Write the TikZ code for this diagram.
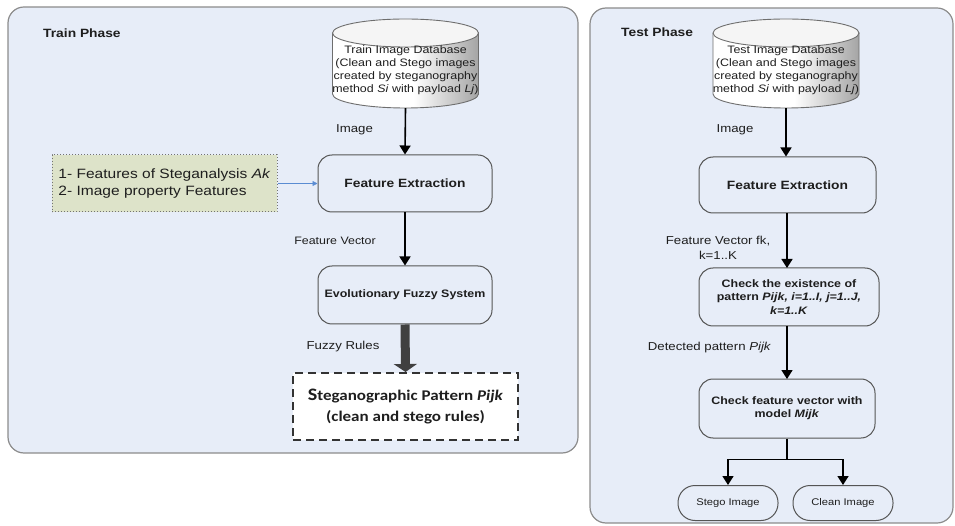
\documentclass[tikz,border=0pt]{standalone}
\usepackage{fontspec}
\setmainfont{Liberation Sans}[FakeStretch=1.15]
\newfontfamily\patfont{Carlito}[FakeStretch=1.15]
\usetikzlibrary{arrows.meta}

\definecolor{panelfill}{RGB}{231,237,248}
\definecolor{panelline}{RGB}{140,140,140}
\definecolor{boxline}{RGB}{85,85,85}
\definecolor{drumline}{RGB}{110,110,110}
\definecolor{notefill}{RGB}{221,227,201}
\definecolor{linkblue}{RGB}{90,140,210}
\definecolor{ink}{RGB}{30,30,30}
\definecolor{heavy}{RGB}{64,64,64}

\newcommand\fsz[2]{\fontsize{#1}{#2}\selectfont}

\tikzset{
  % database cylinder, origin at the top centre of the drum
  dbcyl/.pic={
    \begin{scope}
      \clip (-73,14) -- (-73,75)
        arc[start angle=180, end angle=0, x radius=73, y radius=14]
        -- (73,14)
        arc[start angle=360, end angle=180, x radius=73, y radius=14] -- cycle;
      \fill[white] (-74,0) rectangle (74,90);
      \shade[left color=white, right color=black!36] (8,0) rectangle (74,90);
    \end{scope}
    \draw[drumline, line width=0.9pt]
      (-73,14) -- (-73,75)
      arc[start angle=180, end angle=0, x radius=73, y radius=14]
      -- (73,14);
    \draw[drumline, line width=0.9pt, fill=white!96!black]
      (0,14) ellipse [x radius=73, y radius=14];
  }
}

\begin{document}
\begin{tikzpicture}[x=1pt, y=-1pt,
  panel/.style={draw=panelline, line width=1.2pt, fill=panelfill, rounded corners=16pt},
  title/.style={text=ink, font=\bfseries\fsz{12}{14}, inner sep=0pt, anchor=west},
  proc/.style={draw=boxline, line width=1pt, fill=panelfill, rounded corners=14pt,
    align=center, text=ink, font=\bfseries\fsz{10.8}{13.3}, inner sep=2pt},
  lbl/.style={text=ink, font=\fsz{11.5}{15}, inner sep=0pt, align=center},
  flow/.style={draw=black, line width=1.6pt, -{Triangle[width=11pt,length=9pt]}},
  link/.style={draw=linkblue, line width=0.8pt, -{Triangle[width=5pt,length=5pt]}},
  dbtext/.style={text=ink, font=\fsz{10.8}{13}, align=center, minimum width=146pt,
    minimum height=75pt, inner sep=0pt},
  note/.style={draw=black!55, dotted, line width=1pt, fill=notefill, text=ink,
    align=left, font=\fsz{13.5}{17}, minimum width=225pt, minimum height=57pt},
  pattern box/.style={draw=black!80, dashed, dash pattern=on 8pt off 5pt, line width=2pt,
    fill=white, align=center, text=ink, font=\patfont\bfseries\fsz{14.8}{21},
    minimum width=225pt, minimum height=67pt},
  terminal/.style={draw=boxline, line width=1pt, fill=panelfill, rounded corners=17pt,
    minimum width=100pt, minimum height=35pt, font=\fsz{9.7}{12}, text=ink},
]
\useasboundingbox (0,0) rectangle (955,526);

% ---------------- panels ----------------
\draw[panel] (8,7) rectangle (578,453);
\draw[panel] (590,8) rectangle (953,523);
\node[title] (trainttl) at (43,33) {Train Phase};
\node[title] (testttl) at (621,32) {Test Phase};

% ---------------- train phase ----------------
\pic at (405.5,19) {dbcyl};
\node[dbtext] (traindb) at (405.5,70.5)
  {Train Image Database\\(Clean and Stego images\\created by steganography\\method \textit{Si} with payload \textit{Lj})};

\node[proc, font=\bfseries\fsz{12}{14}, minimum width=174pt, minimum height=57pt]
  (trainfe) at (405,183.5) {Feature Extraction};
\node[proc, minimum width=174pt, minimum height=58pt] (efs) at (405,295) {Evolutionary Fuzzy System};
\node[pattern box] (pat) at (405.5,406.5)
  {{\fsz{17.5}{21}S}teganographic Pattern \textit{Pijk}\\(clean and stego rules)};
\node[note] (feat) at (164.5,183.5)
  {1- Features of Steganalysis \textit{Ak}\\2- Image property Features};

\draw[flow] (traindb.south) -- (trainfe.north);
\draw[flow] (trainfe.south) -- (efs.north);
\draw[heavy, line width=9pt, -{Triangle[width=23pt,length=8pt]}] (efs.south) -- (pat.north);
\draw[link] (feat.east) -- (trainfe.west);

\node[lbl] (lblimg1) at (354.5,130) {Image};
\node[lbl, font=\fsz{10.8}{14}] (lblfv) at (335,241) {Feature Vector};
\node[lbl] (lblfr) at (343,347) {Fuzzy Rules};

% ---------------- test phase ----------------
\pic at (786,19) {dbcyl};
\node[dbtext] (testdb) at (786,70.5)
  {Test Image Database\\(Clean and Stego images\\created by steganography\\method \textit{Si} with payload \textit{Lj})};

\node[proc, font=\bfseries\fsz{12}{14}, minimum width=177pt, minimum height=56pt]
  (testfe) at (787.5,185) {Feature Extraction};
\node[proc, minimum width=180pt, minimum height=58pt] (check) at (789,297)
  {Check the existence of\\pattern \textit{Pijk, i=1..I, j=1..J,}\\\textit{k=1..K}};
\node[proc, minimum width=176pt, minimum height=59pt] (model) at (787,408.5)
  {Check feature vector with\\model \textit{Mijk}};
\node[terminal] (stego) at (728,503) {Stego Image};
\node[terminal] (clean) at (843,503) {Clean Image};

\draw[flow] (testdb.south) -- (testdb.south |- testfe.north);
\draw[flow] (787,213) -- (787,268);
\draw[flow] (787,326) -- (787,379);
\draw[line width=1.6pt] (model.south) -- ++(0,21) coordinate (split);
\draw[flow] (split) -| (stego.north);
\draw[flow] (split) -| (clean.north);

\node[lbl] (lblimg2) at (735,130) {Image};
\node[lbl] (lblfv2) at (718,247.5) {Feature Vector fk,\\k=1..K};
\node[lbl] (lbldet) at (709.5,348) {Detected pattern \textit{Pijk}};
\end{tikzpicture}
\end{document}
